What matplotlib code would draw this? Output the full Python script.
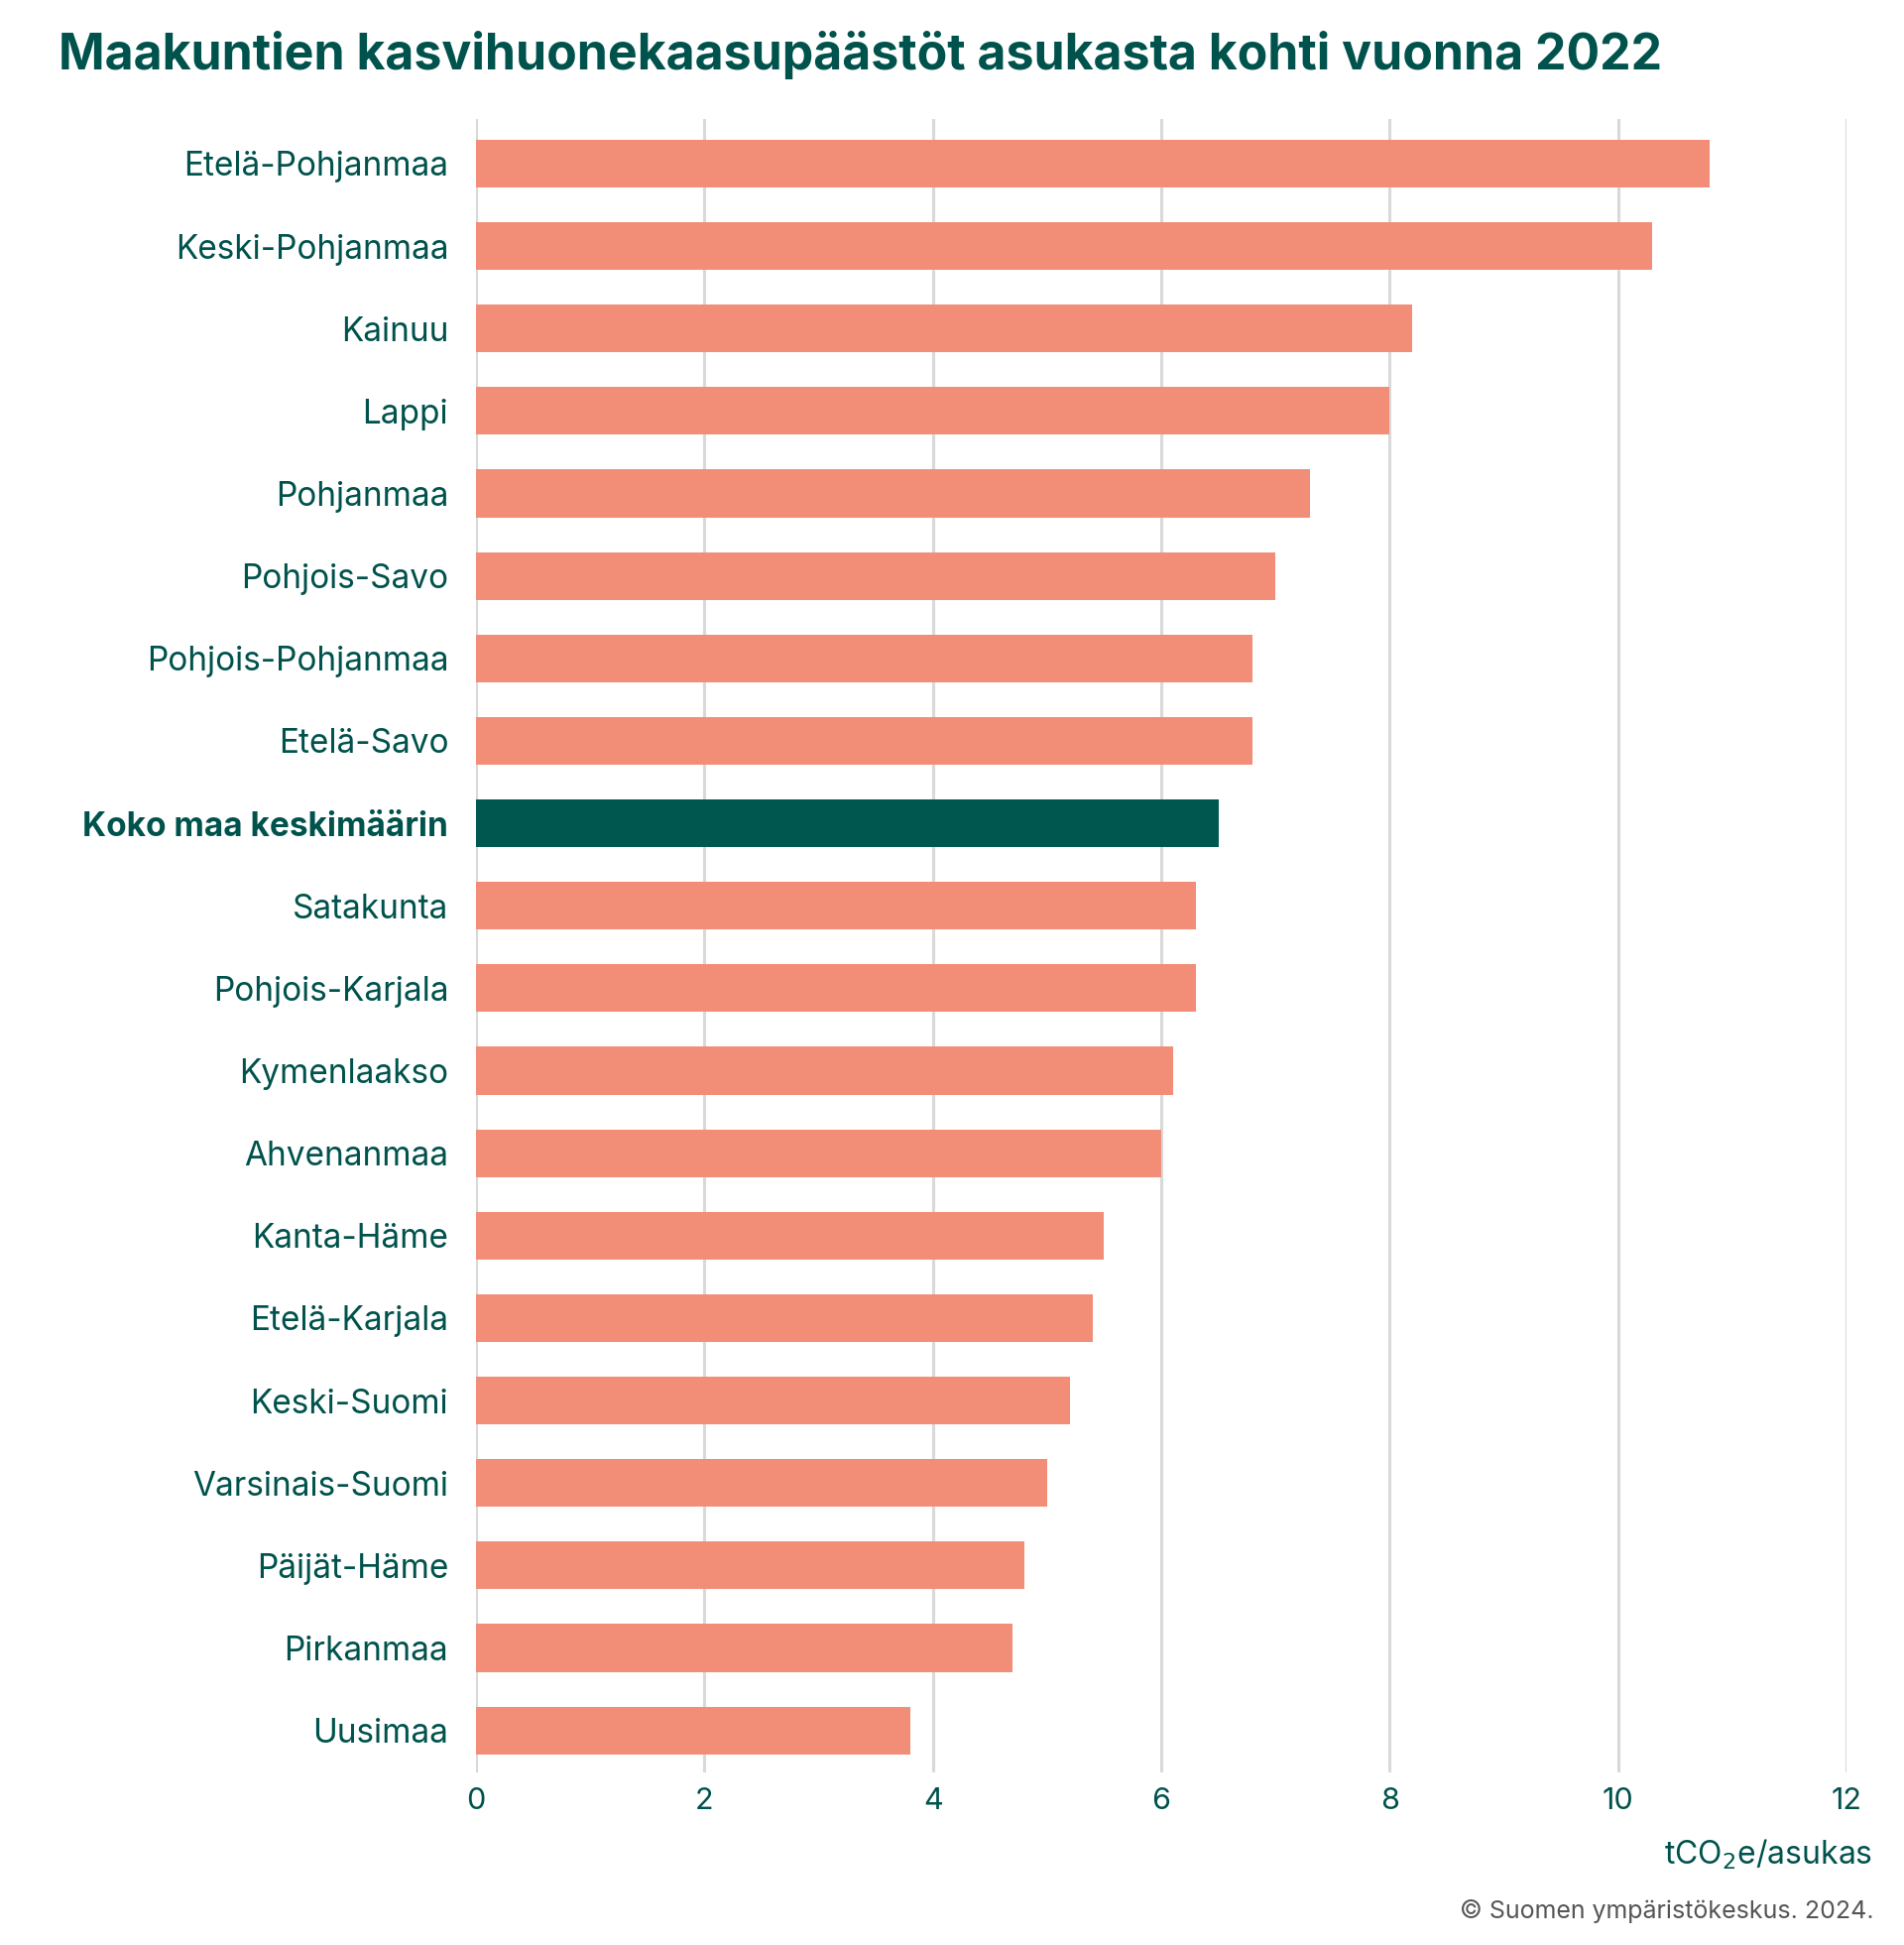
import matplotlib
matplotlib.use("Agg")
import matplotlib.pyplot as plt

plt.rcParams['font.family'] = ['Inter', 'DejaVu Sans']

# data, top to bottom
regions = [
    "Etelä-Pohjanmaa", "Keski-Pohjanmaa", "Kainuu", "Lappi", "Pohjanmaa",
    "Pohjois-Savo", "Pohjois-Pohjanmaa", "Etelä-Savo", "Koko maa keskimäärin",
    "Satakunta", "Pohjois-Karjala", "Kymenlaakso", "Ahvenanmaa", "Kanta-Häme",
    "Etelä-Karjala", "Keski-Suomi", "Varsinais-Suomi", "Päijät-Häme",
    "Pirkanmaa", "Uusimaa",
]
emissions = [
    10.8, 10.3, 8.2, 8.0, 7.3,
    7.0, 6.8, 6.8, 6.5,
    6.3, 6.3, 6.1, 6.0, 5.5,
    5.4, 5.2, 5.0, 4.8,
    4.7, 3.8,
]
highlight = "Koko maa keskimäärin"
x_ticks = [0, 2, 4, 6, 8, 10, 12]

SALMON = "#F28E78"
DARK = "#005750"
TEXT = "#00524C"
GRID = "#D9D9D9"

fig = plt.figure(figsize=(19.2, 19.61), dpi=100)
ax = fig.add_axes([0.25, 0.0887, 0.7198, 0.8501])

ypos = list(range(len(regions)))
colors = [DARK if r == highlight else SALMON for r in regions]
ax.barh(ypos, emissions, height=0.58, color=colors, zorder=3)

ax.set_xlim(0, 12)
ax.set_ylim(len(regions) - 0.49, -0.54)
ax.set_xticks(x_ticks)
ax.set_xticklabels([str(t) for t in x_ticks])
ax.set_yticks(ypos)
ax.set_yticklabels(regions)

for lbl in ax.get_yticklabels():
    if lbl.get_text() == highlight:
        lbl.set_fontweight("bold")

ax.tick_params(axis="y", length=0, pad=20, labelsize=24, labelcolor=TEXT)
ax.tick_params(axis="x", length=0, pad=11, labelsize=22, labelcolor=TEXT)
ax.grid(axis="x", color=GRID, linewidth=2.2, zorder=0)
ax.set_axisbelow(True)
for s in ax.spines.values():
    s.set_visible(False)

fig.text(59 / 1920, 1 - 56 / 1961, "Maakuntien kasvihuonekaasupäästöt asukasta kohti vuonna 2022",
         fontsize=36, fontweight="bold", color=TEXT, ha="left", va="center")

fig.text(1888 / 1920, 1 - 1870 / 1961, r"tCO$_2$e/asukas", fontsize=23, color=TEXT,
         ha="right", va="center")
fig.text(1890 / 1920, 1 - 1927 / 1961, "© Suomen ympäristökeskus. 2024.", fontsize=18,
         color="#555555", ha="right", va="center")

fig.savefig("out.png", dpi=100)
